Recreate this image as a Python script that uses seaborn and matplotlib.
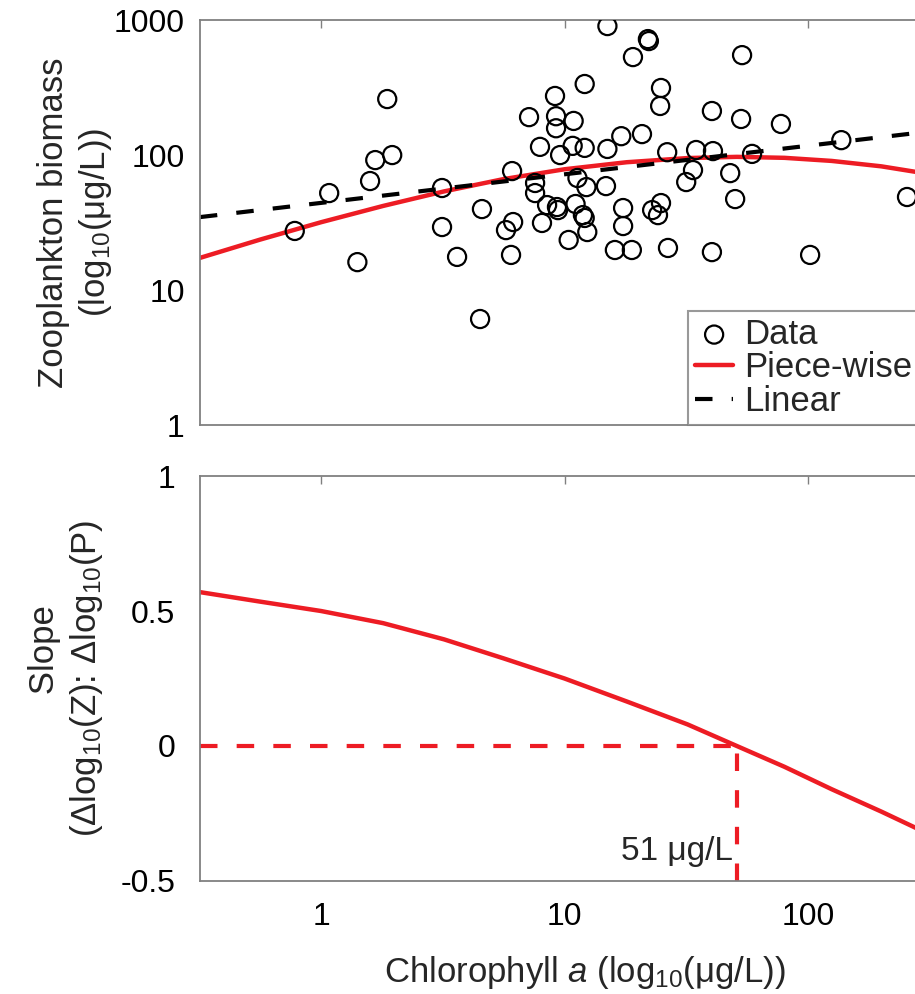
import matplotlib
matplotlib.use("Agg")
import matplotlib.pyplot as plt
import seaborn as sns
import pandas as pd

# chlorophyll a (ug/L) vs zooplankton biomass (ug/L)
chl = [0.78, 1.08, 1.41, 1.59, 1.67, 1.87, 1.96, 3.14, 3.14, 3.62,
       4.50, 4.58, 5.75, 6.15, 6.03, 6.09, 7.15, 7.57, 7.57, 7.93,
       8.08, 8.48, 9.14, 9.23, 9.23, 9.31, 9.40, 9.59, 10.4, 10.8,
       10.9, 11.1, 11.3, 11.9, 12.1, 12.1, 12.1, 12.3, 12.4, 14.8,
       15.0, 15.0, 16.1, 17.1, 17.4, 17.4, 18.9, 19.1, 20.8, 22.0,
       22.2, 22.9, 24.2, 24.7, 24.9, 24.9, 26.4, 26.6, 31.6, 33.7,
       34.7, 40.3, 40.3, 40.7, 47.9, 50.2, 53.1, 53.6, 58.9, 77.4,
       102, 137, 255]
zoo = [27.4, 52.3, 16.1, 64.2, 91.8, 260, 100, 57, 29.3, 17.6,
       6.1, 39.8, 27.8, 31.9, 18.2, 76.1, 191, 62.1, 52.3, 115,
       31.4, 42.6, 274, 194, 158, 41.2, 39.1, 100, 23.5, 117,
       179, 43.4, 67.6, 35.9, 34.2, 336, 113, 57.9, 26.9, 58.9,
       903, 111, 19.8, 138, 40.5, 29.8, 19.8, 532, 143, 723,
       699, 39.1, 35.9, 231, 314, 44.1, 105, 20.5, 63.1, 77.4,
       109, 212, 19.1, 107, 73.5, 47.2, 185, 550, 102, 170,
       18.2, 129, 48.9]

# piece-wise fit and its local slope
fit_x = [0.318, 0.56, 1, 1.8, 3.2, 5.6, 10, 18, 32, 51, 80, 125, 200, 320]
fit_piece = [17.3, 23.6, 31.8, 42.0, 53.8, 66.3, 78.5, 88.5, 95.0, 97.0,
             95.4, 90.5, 82.5, 72.0]
fit_slope = [0.57, 0.535, 0.50, 0.455, 0.395, 0.325, 0.25, 0.165, 0.08, 0.0,
             -0.077, -0.16, -0.243, -0.33]

# linear fit
lin_x = [0.318, 320]
lin_y = [34.7, 150]

zero_cross = 51

red = "#ED1C24"
grey = "#808080"

sns.set_theme(style="white")
plt.rcParams["font.family"] = ["Liberation Sans", "DejaVu Sans"]
plt.rcParams["mathtext.fontset"] = "custom"
plt.rcParams["mathtext.rm"] = "Liberation Sans"
plt.rcParams["mathtext.it"] = "Liberation Sans:italic"
plt.rcParams["axes.unicode_minus"] = False

fs = 23
lfs = 25

fig = plt.figure(figsize=(9.15, 9.94), dpi=100)
ax1 = fig.add_axes([0.2186, 0.5724, 0.9306, 0.4074])
ax2 = fig.add_axes([0.2186, 0.1137, 0.9306, 0.4074])

for ax in (ax1, ax2):
    ax.set_xscale("log")
ax1.set_yscale("log")

# top panel
sns.scatterplot(x=chl, y=zoo, ax=ax1, marker="o", s=170, facecolors="none",
                edgecolor="black", linewidth=1.6, label="Data", zorder=3)
sns.lineplot(x=fit_x, y=fit_piece, ax=ax1, color=red, lw=3.2, label="Piece-wise")
sns.lineplot(x=lin_x, y=lin_y, ax=ax1, color="black", lw=3,
             linestyle=(0, (4.2, 4.6)), label="Linear")

ax1.set_xlim(10 ** -0.497, 1000)
ax1.set_ylim(1, 1000)
ax1.set_yticks([1, 10, 100, 1000], ["1", "10", "100", "1000"])
ax1.set_xticks([1, 10, 100], ["1", "10", "100"])
ax1.set_ylabel("Zooplankton biomass\n(log$_{10}$(\u03bcg/L))", fontsize=lfs,
               linespacing=1.25)
ax1.yaxis.set_label_coords(-0.101, 0.5)
ax1.tick_params(labelbottom=False)

leg = ax1.legend(loc="lower left", bbox_to_anchor=(0.752, 0.5724),
                 bbox_transform=fig.transFigure, borderaxespad=0,
                 fontsize=lfs, frameon=True, fancybox=False,
                 handlelength=1.1, handletextpad=0.3, labelspacing=0.02,
                 borderpad=0.2)
leg.get_frame().set_edgecolor(grey)
leg.get_frame().set_linewidth(1.5)

# bottom panel
sns.lineplot(x=fit_x, y=fit_slope, ax=ax2, color=red, lw=3.2)
ax2.hlines(0, 10 ** -0.497, zero_cross, colors=red, lw=3,
           linestyles=[(0, (4.2, 4.6))])
ax2.vlines(zero_cross, -0.5, 0, colors=red, lw=3,
           linestyles=[(0, (4.2, 4.6))])
ax2.annotate("51 \u03bcg/L", xy=(zero_cross, -0.5), xytext=(-3, 15),
             textcoords="offset points", ha="right", va="baseline",
             fontsize=24)

ax2.set_xlim(10 ** -0.497, 1000)
ax2.set_ylim(-0.5, 1)
ax2.set_yticks([-0.5, 0, 0.5, 1], ["-0.5", "0", "0.5", "1"])
ax2.set_xticks([1, 10, 100], ["1", "10", "100"])
ax2.set_ylabel("      Slope\n(\u0394log$_{10}$(Z): \u0394log$_{10}$(P)",
               fontsize=lfs, linespacing=1.25)
ax2.yaxis.set_label_coords(-0.112, 0.5)
ax2.set_xlabel("Chlorophyll $\\it{a}$ (log$_{10}$(\u03bcg/L))", fontsize=lfs)
ax2.xaxis.set_label_coords(0.452, -0.18)

for ax in (ax1, ax2):
    ax.minorticks_off()
    ax.tick_params(direction="in", length=6, width=1, color=grey,
                   labelsize=fs, labelcolor="black", top=True, right=True)
    ax.tick_params(axis="x", pad=15)
    for sp in ax.spines.values():
        sp.set_color(grey)
        sp.set_linewidth(1.3)
    ax.grid(False)

ax1.tick_params(axis="y", pad=11)
ax2.tick_params(axis="y", pad=18)

fig.savefig("out.png", dpi=100)
